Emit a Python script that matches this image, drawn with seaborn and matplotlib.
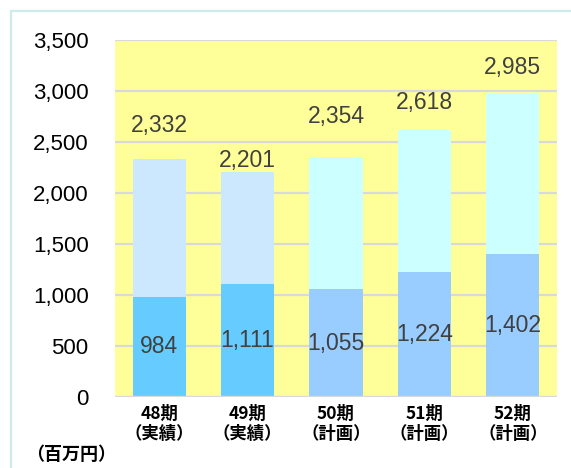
#!/usr/bin/env python3
"""
Recreate the term-by-term stacked bar chart (million yen).
"""

import matplotlib
matplotlib.use('Agg')
import matplotlib.pyplot as plt
import matplotlib.patches as mpatches
from matplotlib.ticker import FuncFormatter
import seaborn as sns
import pandas as pd

# Data
periods = ['48期\n（実績）', '49期\n（実績）', '50期\n（計画）', '51期\n（計画）', '52期\n（計画）']
totals = [2332, 2201, 2354, 2618, 2985]
lower_values = [984, 1111, 1055, 1224, 1402]
y_ticks = [0, 500, 1000, 1500, 2000, 2500, 3000, 3500]
unit_label = '（百万円）'

# Styling
upper_colors = ['#CCE8FF', '#CCE8FF', '#CCFFFF', '#CCFFFF', '#CCFFFF']
lower_colors = ['#66CCFF', '#66CCFF', '#99CCFF', '#99CCFF', '#99CCFF']
total_offsets_px = [34, 12, 40, 27, 25]  # label distance above bar top
bg_color = '#FFFF99'
grid_color = '#D9D9D9'
text_color = '#404040'

plt.rcParams['font.family'] = ['Liberation Sans', 'Noto Sans CJK JP', 'DejaVu Sans']

df = pd.DataFrame({'period': periods, 'total': totals, 'lower': lower_values})

fig = plt.figure(figsize=(5.71, 4.68), dpi=100)
ax = fig.add_axes([115 / 571, 1 - 397 / 468, 442 / 571, 357 / 468])
ax.set_facecolor(bg_color)

# Light outer frame
fig.patches.append(mpatches.Rectangle(
    (11 / 571, -0.05), 1.0, 1 - 11 / 468 + 0.05, transform=fig.transFigure,
    fill=False, edgecolor='#CDEBEB', linewidth=1.6, zorder=0))

# Gridlines
for t in y_ticks[1:]:
    ax.axhline(t, color=grid_color, linewidth=1.6, zorder=1)
ax.axhline(0, color=grid_color, linewidth=2.4, zorder=4)

# Stacked bars: full height in light color, lower part over it
sns.barplot(data=df, x='period', y='total', hue='period', palette=upper_colors,
            width=0.6, legend=False, ax=ax, zorder=2, saturation=1)
sns.barplot(data=df, x='period', y='lower', hue='period', palette=lower_colors,
            width=0.6, legend=False, ax=ax, zorder=3, saturation=1)

for i, (tot, low) in enumerate(zip(totals, lower_values)):
    ax.annotate(f'{tot:,}', (i, tot), xytext=(0, total_offsets_px[i]),
                textcoords='offset pixels', ha='center', va='center',
                fontsize=16.5, color=text_color, zorder=5)
    ax.text(i, low / 2, f'{low:,}', ha='center', va='center',
            fontsize=16.5, color=text_color, zorder=5)

ax.set_ylim(0, 3500)
ax.set_xlim(-0.5, len(periods) - 0.5)
ax.set_yticks(y_ticks)
ax.yaxis.set_major_formatter(FuncFormatter(lambda v, _: f'{int(v):,}'))
ax.tick_params(axis='y', length=0, pad=19, labelsize=16, labelcolor='black')
ax.tick_params(axis='x', length=0, pad=6)
for lbl in ax.get_xticklabels():
    lbl.set_fontsize(12.5)
    lbl.set_fontweight('bold')
    lbl.set_family(['Noto Sans CJK JP', 'DejaVu Sans'])
    lbl.set_linespacing(1.15)
ax.set_xlabel('')
ax.set_ylabel('')
for side in ax.spines.values():
    side.set_visible(False)

fig.text(26 / 571, 1 - 455 / 468, unit_label, ha='left', va='center',
         fontsize=13, fontweight='bold', family=['Noto Sans CJK JP', 'DejaVu Sans'])

fig.savefig('out.png', dpi=100)
